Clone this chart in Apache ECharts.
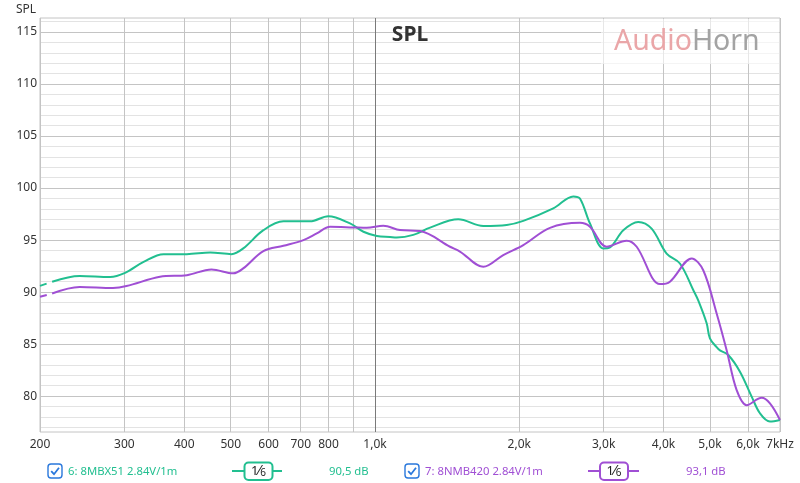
<!DOCTYPE html>
<html>
<head>
<meta charset="utf-8">
<script src="https://cdn.jsdelivr.net/npm/echarts@6/dist/echarts.min.js"></script>
<style>html,body{margin:0;padding:0;background:#fff;}#c{width:800px;height:483px;}</style>
</head>
<body>
<div id="c"></div>
<script>
// ---- data ----
const freqG = [200, 212, 242, 280, 301, 329, 362, 405, 453, 502, 531, 585, 644, 732, 799, 887, 946, 1009, 1075, 1110, 1202, 1303, 1492, 1683, 1883, 2039, 2355, 2593, 2677, 2809, 2994, 3092, 3297, 3543, 3778, 4060, 4328, 4614, 4726, 4921, 4999, 5163, 5246, 5459, 5775, 6109, 6357, 6670, 7000];
const splG  = [90.6, 91.0, 91.55, 91.45, 91.85, 92.9, 93.65, 93.65, 93.8, 93.65, 94.2, 95.95, 96.8, 96.8, 97.3, 96.6, 95.8, 95.4, 95.3, 95.25, 95.5, 96.2, 97.0, 96.35, 96.45, 96.85, 98.05, 99.2, 99.0, 96.6, 94.2, 94.3, 95.95, 96.75, 96.1, 93.7, 92.75, 90.2, 89.2, 87.0, 85.55, 84.7, 84.4, 83.95, 82.35, 79.95, 78.35, 77.55, 77.7];
const freqP = [200, 212, 242, 284, 303, 356, 405, 456, 506, 531, 585, 644, 709, 756, 806, 901, 961, 1041, 1128, 1241, 1434, 1504, 1683, 1852, 2039, 2318, 2677, 2809, 3043, 3351, 3516, 3932, 4125, 4579, 4841, 5163, 5417, 5684, 5964, 6409, 6670, 7000];
const splP  = [89.55, 89.87, 90.5, 90.4, 90.58, 91.47, 91.63, 92.18, 91.8, 92.28, 93.94, 94.45, 95.0, 95.64, 96.28, 96.22, 96.18, 96.38, 95.96, 95.87, 94.36, 93.9, 92.43, 93.56, 94.52, 96.18, 96.66, 96.28, 94.36, 94.94, 94.36, 90.77, 91.0, 93.24, 92.1, 87.95, 84.42, 80.58, 79.13, 79.84, 79.3, 77.7];
const xTickFreqs  = [200, 300, 400, 500, 600, 700, 800, 900, 1000, 2000, 3000, 4000, 5000, 6000, 7000];
const xTickLabels = ['200', '300', '400', '500', '600', '700', '800', '', '1,0k', '2,0k', '3,0k', '4,0k', '5,0k', '6,0k', '7kHz'];
const yMajorTicks = [80, 85, 90, 95, 100, 105, 110, 115];
const yMinorTicks = [77, 78, 79, 81, 82, 83, 84, 86, 87, 88, 89, 91, 92, 93, 94, 96, 97, 98, 99, 101, 102, 103, 104, 106, 107, 108, 109, 111, 112, 113, 114, 116];
const seriesNames = ['6: 8MBX51 2.84V/1m', '7: 8NMB420 2.84V/1m'];
const levelTexts = ['90,5 dB', '93,1 dB'];

// ---- build ----
const L = Math.log10;
const colG = '#22bf90', colP = '#a04fd4';
const FONT = 'Noto Sans';
const xMin = L(200), xMax = L(7000), yMin = 76.55, yMax = 116.35;
function pts(f, v, a, b) { const out = []; for (let i = a; i < b; i++) out.push([L(f[i]), v[i]]); return out; }
function xLabel(val) {
  let best = 0, bd = 1e9;
  xTickFreqs.forEach((f, i) => { const d = Math.abs(L(f) - val); if (d < bd) { bd = d; best = i; } });
  return xTickLabels[best];
}
const chart = echarts.init(document.getElementById('c'), null, { renderer: 'canvas' });
const lineSeries = (name, data, color, dashed) => ({
  name, type: 'line', data, xAxisIndex: 0, yAxisIndex: 0, smooth: dashed ? false : 0.35, symbol: 'none',
  lineStyle: { color, width: 2, type: dashed ? [7, 30] : 'solid', cap: 'butt' }, silent: true, animation: false, z: 5
});
function checkbox(x, y) {
  return [
    { type: 'rect', shape: { x: x, y: y, width: 14, height: 14, r: 3 }, style: { fill: '#fff', stroke: '#2a78dc', lineWidth: 1.4 }, z: 50 },
    { type: 'polyline', shape: { points: [[x + 3.2, y + 7.2], [x + 6, y + 10.2], [x + 11, y + 3.8]] }, style: { stroke: '#2a78dc', lineWidth: 1.8, fill: null }, z: 51 }
  ];
}
function icon(x1, x2, bx, color) {
  return [
    { type: 'line', shape: { x1: x1, y1: 471, x2: x2, y2: 471 }, style: { stroke: color, lineWidth: 2 }, z: 50 },
    { type: 'rect', shape: { x: bx, y: 462.5, width: 28, height: 17.5, r: 4 }, style: { fill: '#fff', stroke: color, lineWidth: 2 }, z: 51 },
    { type: 'text', x: bx + 14, y: 471, style: { text: '{a|1}{b|⁄}{c|6}', align: 'center', verticalAlign: 'middle',
      rich: { a: { fontSize: 13, fontFamily: FONT, fill: '#222' }, b: { fontSize: 14, fontFamily: FONT, fill: '#222' }, c: { fontSize: 10, fontFamily: FONT, fill: '#222', padding: [5, 0, 0, 0] } } }, z: 52 }
  ];
}
const LF = 11.3;
const graphics = [
  { type: 'text', x: 16, y: 10, style: { text: 'SPL', fontSize: 12, fontFamily: FONT, fill: '#333', verticalAlign: 'middle' }, z: 50 },
  { type: 'text', x: 410, y: 35, style: { text: 'SPL', fontSize: 21, fontWeight: 'bold', fontFamily: FONT, fill: '#333', align: 'center', verticalAlign: 'middle' }, z: 50 },
  { type: 'rect', shape: { x: 601, y: 19, width: 178, height: 45 }, style: { fill: 'rgba(255,255,255,0.6)' }, z: 40 },
  { type: 'text', x: 614, y: 42, style: { text: '{a|Audio}{b|Horn}', verticalAlign: 'middle',
      rich: { a: { fontSize: 28.5, fontFamily: FONT, fill: '#eaa6a8' }, b: { fontSize: 28.5, fontFamily: FONT, fill: '#a3a3a3' } } }, z: 50 },
  ...checkbox(48, 464),
  { type: 'text', x: 68, y: 472, style: { text: seriesNames[0], fontSize: LF, fontFamily: FONT, fill: colG, verticalAlign: 'middle' }, z: 50 },
  ...icon(232, 282, 244.5, colG),
  { type: 'text', x: 329, y: 472, style: { text: levelTexts[0], fontSize: LF, fontFamily: FONT, fill: colG, verticalAlign: 'middle' }, z: 50 },
  ...checkbox(405, 464),
  { type: 'text', x: 425, y: 472, style: { text: seriesNames[1], fontSize: LF, fontFamily: FONT, fill: colP, verticalAlign: 'middle' }, z: 50 },
  ...icon(588, 639, 600, colP),
  { type: 'text', x: 686, y: 472, style: { text: levelTexts[1], fontSize: LF, fontFamily: FONT, fill: colP, verticalAlign: 'middle' }, z: 50 }
];
const option = {
  animation: false,
  backgroundColor: '#fff',
  grid: { left: 40, right: 20, top: 18, bottom: 51, show: true, borderColor: '#c4c4c4', borderWidth: 1, containLabel: false },
  xAxis: [
    { type: 'value', min: xMin, max: xMax, position: 'bottom',
      axisLine: { show: false }, axisTick: { show: false, customValues: xTickFreqs.map(L) },
      axisLabel: { customValues: xTickFreqs.map(L), formatter: xLabel, color: '#333', fontSize: 12, fontFamily: FONT, margin: 7, showMinLabel: true, showMaxLabel: true },
      splitLine: { show: true, lineStyle: { color: '#c4c4c4', width: 1 } }, z: 1 },
    { type: 'value', min: xMin, max: xMax, position: 'bottom',
      axisLine: { show: false }, axisTick: { show: false, customValues: [L(1000)] }, axisLabel: { show: false },
      splitLine: { show: true, lineStyle: { color: '#7a7a7a', width: 1 } }, z: 2 }
  ],
  yAxis: [
    { type: 'value', min: yMin, max: yMax,
      axisLine: { show: false }, axisTick: { show: false, customValues: yMajorTicks },
      axisLabel: { customValues: yMajorTicks, color: '#333', fontSize: 12, fontFamily: FONT, margin: 3 },
      splitLine: { show: true, lineStyle: { color: '#c4c4c4', width: 1 } }, z: 1 },
    { type: 'value', min: yMin, max: yMax,
      axisLine: { show: false }, axisTick: { show: false, customValues: yMinorTicks }, axisLabel: { show: false },
      splitLine: { show: true, lineStyle: { color: '#e3e3e3', width: 1 } }, z: 0 }
  ],
  series: [
    lineSeries(seriesNames[0] + ' start', pts(freqG, splG, 0, 2), colG, true),
    lineSeries(seriesNames[0], pts(freqG, splG, 1, freqG.length), colG, false),
    lineSeries(seriesNames[1] + ' start', pts(freqP, splP, 0, 2), colP, true),
    lineSeries(seriesNames[1], pts(freqP, splP, 1, freqP.length), colP, false)
  ],
  graphic: graphics
};
chart.setOption(option);
</script>
</body>
</html>
